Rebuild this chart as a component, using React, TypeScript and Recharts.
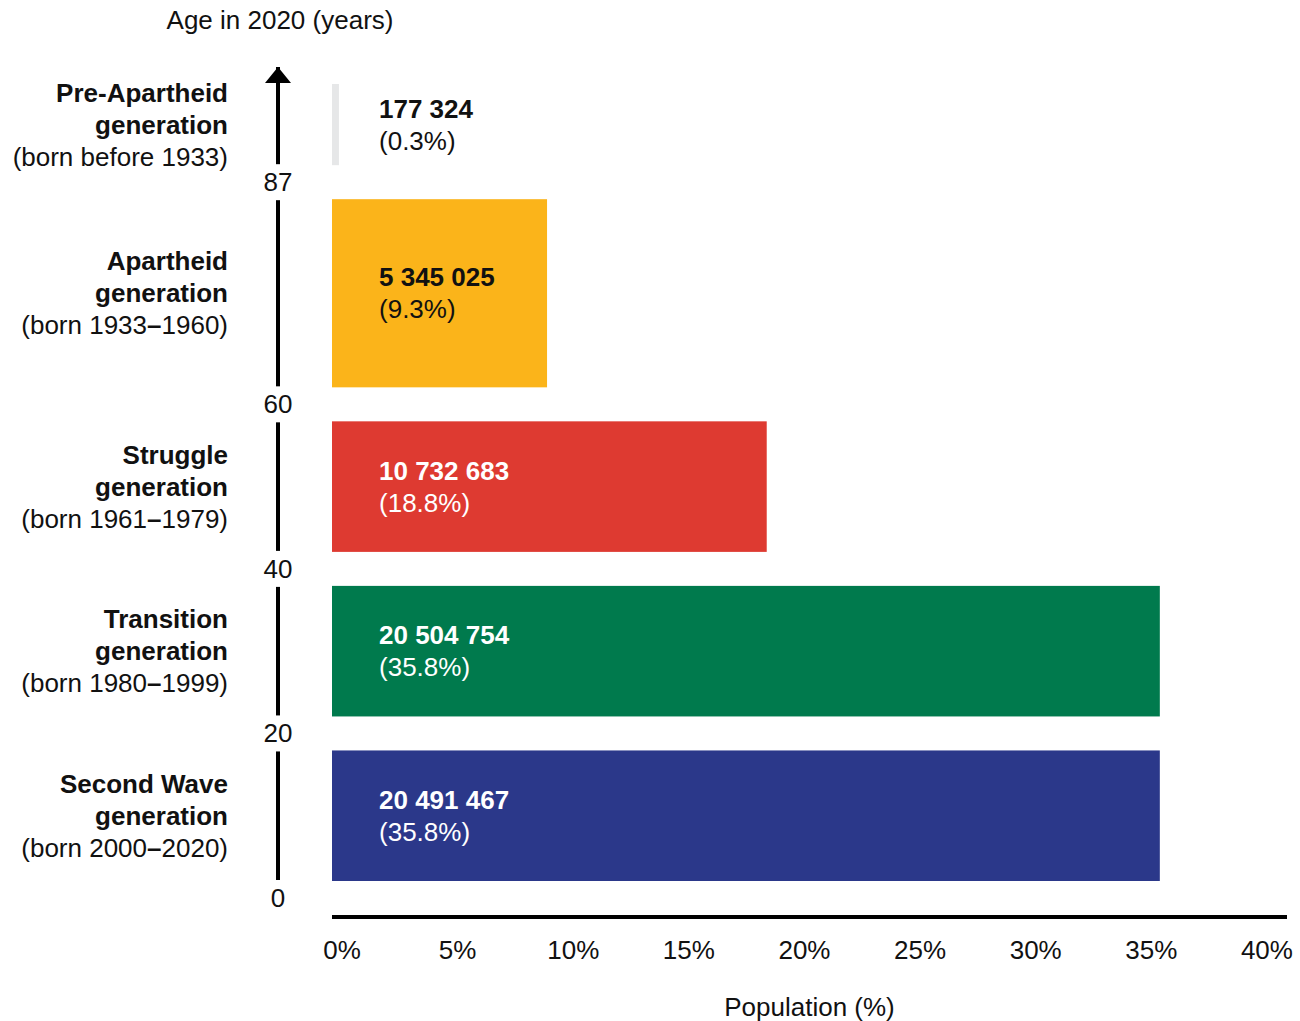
import React from 'react';
import { ComposedChart, XAxis, YAxis, ReferenceArea, Scatter } from 'recharts';

// ---- data ----
const generationNames = ['Pre-Apartheid', 'Apartheid', 'Struggle', 'Transition', 'Second Wave'];
const bornRanges = ['(born before 1933)', '(born 1933–1960)', '(born 1961–1979)', '(born 1980–1999)', '(born 2000–2020)'];
const ageFrom = [87, 60, 40, 20, 0];
const ageTo = [101, 87, 60, 40, 20];
const populationCounts = ['177 324', '5 345 025', '10 732 683', '20 504 754', '20 491 467'];
const populationPct = [0.3, 9.3, 18.8, 35.8, 35.8];
const ageTicks = [0, 20, 40, 60, 87];
const pctTicks = [0, 5, 10, 15, 20, 25, 30, 35, 40];

// ---- styles ----
const barColors = ['#E6E7E8', '#FBB41A', '#DE3A31', '#007A4D', '#2B388A'];
const valueTextColors = ['#111', '#111', '#fff', '#fff', '#fff'];
const FONT = '"Liberation Sans", Arial, Helvetica, sans-serif';
const FS = 26;

const rows = generationNames.map((name, i) => ({
  name,
  born: bornRanges[i],
  from: ageFrom[i],
  to: ageTo[i],
  count: populationCounts[i],
  pct: populationPct[i],
}));

const BornText = ({ text }: { text: string }) => {
  const parts = text.split('–');
  if (parts.length < 2) return <>{text}</>;
  return (
    <>
      {parts[0]}
      <tspan fontWeight="bold">–</tspan>
      {parts[1]}
    </>
  );
};

const makeShape = (i: number) => (props: any) => {
  const { x, y, width, height } = props;
  const inset = 17;
  const cy = y + height / 2;
  const catX = x - 104;
  const valX = x + 47;
  const r = rows[i];
  return (
    <g>
      <rect x={x} y={y + inset} width={width} height={height - inset * 2} fill={barColors[i]} />
      <g fontFamily={FONT} fontSize={FS} fill="#111" textAnchor="end">
        <text x={catX} y={cy - 32} dominantBaseline="central" fontWeight="bold">{r.name}</text>
        <text x={catX} y={cy} dominantBaseline="central" fontWeight="bold">generation</text>
        <text x={catX} y={cy + 32} dominantBaseline="central"><BornText text={r.born} /></text>
      </g>
      <g fontFamily={FONT} fontSize={FS} fill={valueTextColors[i]} textAnchor="start">
        <text x={valX} y={cy - 16} dominantBaseline="central" fontWeight="bold">{r.count}</text>
        <text x={valX} y={cy + 16} dominantBaseline="central">({r.pct}%)</text>
      </g>
    </g>
  );
};

const AgeTick = (props: any) => {
  const { x, y, payload, index } = props;
  const isZero = payload.value === 0;
  return (
    <g>
      {index === 0 && (
        <defs>
          <marker id="ageArrow" markerUnits="userSpaceOnUse" markerWidth={26} markerHeight={16} refX={13} refY={0} orient="0" overflow="visible">
            <path d="M0,16 L13,0 L26,16 Z" fill="#000" />
          </marker>
        </defs>
      )}
      <rect x={x - 20} y={y - 18} width={40} height={isZero ? 42 : 36} fill="#fff" />
      <text x={x} y={y} textAnchor="middle" dominantBaseline="central" fontFamily={FONT} fontSize={FS} fill="#111">
        {payload.value}
      </text>
    </g>
  );
};

const PctTick = (props: any) => {
  const { x, y, payload } = props;
  return (
    <text x={x + 10} y={y + 33} textAnchor="middle" dominantBaseline="central" fontFamily={FONT} fontSize={FS} fill="#111">
      {payload.value}%
    </text>
  );
};

const AgeTitle = (props: any) => {
  const vb = props.viewBox || { x: 0, y: 0, width: 0 };
  return (
    <text x={vb.x + vb.width + 2} y={vb.y - 47} textAnchor="middle" dominantBaseline="central" fontFamily={FONT} fontSize={FS} fill="#111">
      Age in 2020 (years)
    </text>
  );
};

const PctTitle = (props: any) => {
  const vb = props.viewBox || { x: 0, y: 0, width: 0 };
  return (
    <text x={vb.x + vb.width / 2} y={vb.y + 90} textAnchor="middle" dominantBaseline="central" fontFamily={FONT} fontSize={FS} fill="#111">
      Population (%)
    </text>
  );
};

export default function App() {
  return (
    <div style={{ position: 'absolute', left: 0, top: 0, background: '#fff' }}>
      <ComposedChart
        width={1300}
        height={1021}
        layout="vertical"
        data={rows}
        margin={{ top: 67, right: 13, bottom: 0, left: 218 }}
      >
        <XAxis
          xAxisId="pct"
          type="number"
          dataKey="pct"
          domain={[0, 41.3]}
          allowDataOverflow
          ticks={pctTicks}
          interval={0}
          axisLine={{ stroke: '#000', strokeWidth: 4 }}
          tickLine={false}
          tickSize={0}
          tickMargin={0}
          height={104}
          tick={<PctTick />}
          label={<PctTitle />}
        />
        <YAxis
          yAxisId="z_age"
          type="number"
          dataKey="to"
          domain={[0, 101]}
          allowDataOverflow
          reversed
          padding={{ top: 0, bottom: 19 }}
          ticks={ageTicks}
          interval={0}
          width={60}
          axisLine={{ stroke: '#000', strokeWidth: 4, markerStart: 'url(#ageArrow)' }}
          tickLine={false}
          tickSize={0}
          tickMargin={0}
          tick={<AgeTick />}
          label={<AgeTitle />}
        />
        <YAxis
          yAxisId="a_bars"
          type="number"
          dataKey="to"
          domain={[0, 101]}
          allowDataOverflow
          reversed
          padding={{ top: 0, bottom: 19 }}
          width={54}
          axisLine={false}
          tickLine={false}
          tick={false}
        />
        <Scatter
          xAxisId="pct"
          yAxisId="a_bars"
          data={rows}
          dataKey="pct"
          isAnimationActive={false}
          shape={() => <g />}
        />
        <Scatter
          xAxisId="pct"
          yAxisId="z_age"
          data={rows}
          dataKey="pct"
          isAnimationActive={false}
          shape={() => <g />}
        />
        {rows.map((r, i) => (
          <ReferenceArea
            key={r.name}
            xAxisId="pct"
            yAxisId="a_bars"
            x1={0}
            x2={r.pct}
            y1={r.from}
            y2={r.to}
            ifOverflow="visible"
            shape={makeShape(i)}
          />
        ))}
      </ComposedChart>
    </div>
  );
}
